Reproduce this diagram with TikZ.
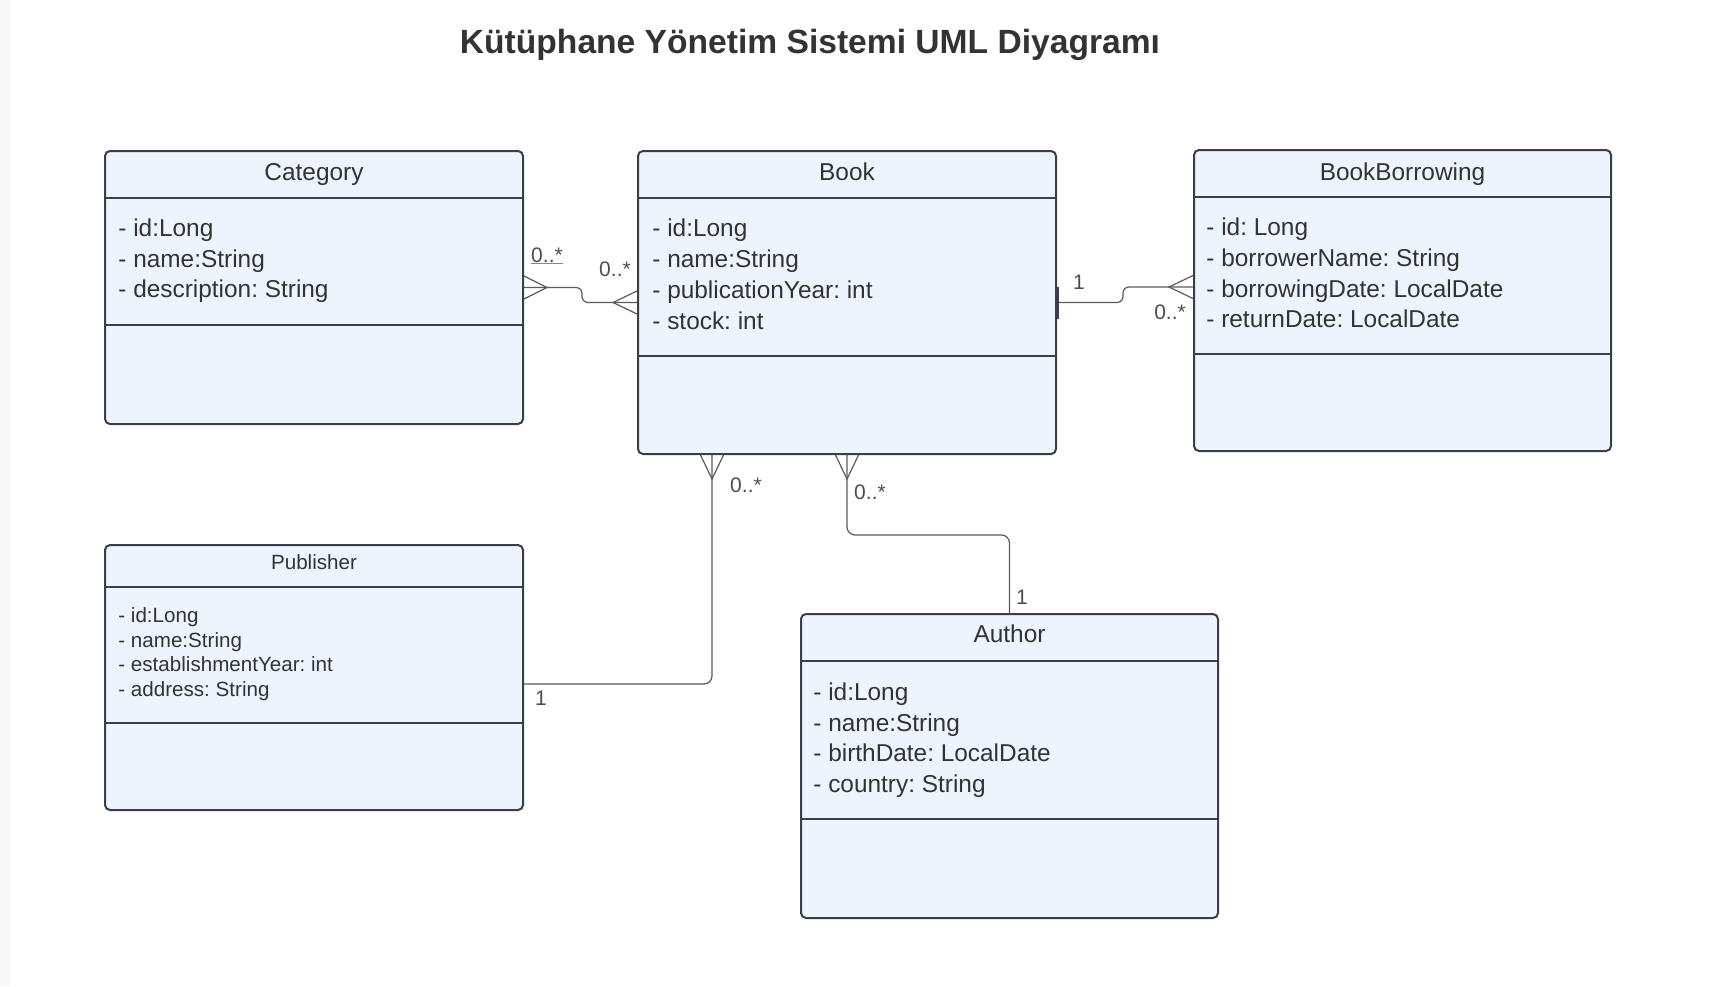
\documentclass[tikz,border=0pt]{standalone}
\usepackage{fontspec}
\setmainfont{Liberation Sans}
\usetikzlibrary{calc}
\frenchspacing

\definecolor{boxfill}{HTML}{EDF4FE}
\definecolor{boxline}{HTML}{3A3F47}
\definecolor{txt}{HTML}{333333}
\definecolor{connline}{HTML}{5A5A5A}
\definecolor{multgrey}{HTML}{4D4D4D}
\definecolor{linkblue}{HTML}{7B7BF0}
\definecolor{strip}{HTML}{F6F8FA}

\tikzset{
  classbox/.style={draw=boxline, fill=boxfill, line width=1pt, rounded corners=2.5pt, anchor=north west, inner sep=0pt},
  divider/.style={draw=boxline, line width=1pt},
  conn/.style={draw=connline, line width=0.6pt},
  diagtitle/.style={anchor=base, inner sep=0pt, text=txt, font=\bfseries\fontsize{16.8}{20}\selectfont},
  head/.style={anchor=base, inner sep=0pt, text=txt, font=\fontsize{12.2}{14}\selectfont},
  smallhead/.style={head, font=\fontsize{10.3}{12}\selectfont},
  attr/.style={anchor=base west, inner sep=0pt, text=txt, font=\fontsize{12.2}{14}\selectfont},
  smallattr/.style={attr, font=\fontsize{10.3}{12}\selectfont},
  mult/.style={inner sep=0pt, text=multgrey, font=\fontsize{10.5}{12}\selectfont},
}

\begin{document}
\begin{tikzpicture}[x=0.5pt, y=-0.5pt]
\useasboundingbox (0,0) rectangle (1714,986);
\fill[strip] (0,0) rectangle (10,986);

\node[diagtitle] (title) at (810,53) {Kütüphane Yönetim Sistemi UML Diyagramı};

% classes
\node[classbox, minimum width=209pt, minimum height=136.5pt] (cat) at (104,150) {};
\node[classbox, minimum width=209pt, minimum height=151.5pt] (book) at (637,150) {};
\node[classbox, minimum width=208.5pt, minimum height=150.5pt] (bb) at (1193,149) {};
\node[classbox, minimum width=209pt, minimum height=132.5pt] (pub) at (104,544) {};
\node[classbox, minimum width=208.5pt, minimum height=152pt] (aut) at (800,613) {};

\draw[divider] (cat.north west) ++(0,48) -- ++(418,0);
\draw[divider] (cat.north west) ++(0,175) -- ++(418,0);
\draw[divider] (book.north west) ++(0,48) -- ++(418,0);
\draw[divider] (book.north west) ++(0,205.7) -- ++(418,0);
\draw[divider] (bb.north west) ++(0,48) -- ++(417,0);
\draw[divider] (bb.north west) ++(0,205) -- ++(417,0);
\draw[divider] (pub.north west) ++(0,43) -- ++(418,0);
\draw[divider] (pub.north west) ++(0,179) -- ++(418,0);
\draw[divider] (aut.north west) ++(0,48) -- ++(417,0);
\draw[divider] (aut.north west) ++(0,206) -- ++(417,0);

\node[head] (catname) at ($(cat.north)+(0,30)$) {Category};
\node[head] (bookname) at ($(book.north)+(0,30)$) {Book};
\node[head] (bbname) at ($(bb.north)+(0,31)$) {BookBorrowing};
\node[smallhead] (pubname) at ($(pub.north)+(0,25.5)$) {Publisher};
\node[head] (autname) at ($(aut.north)+(0,29)$) {Author};

\foreach \a [count=\i] in {{- id:Long}, {- name:String}, {- description: String}}
  \node[attr] (catattr\i) at ($(cat.north west)+(14,56+30.5*\i)$) {\a};
\foreach \a [count=\i] in {{- id:Long}, {- name:String}, {- publicationYear: int}, {- stock: int}}
  \node[attr] (bookattr\i) at ($(book.north west)+(15,55.7+31*\i)$) {\a};
\foreach \a [count=\i] in {{- id: Long}, {- borrowerName: String}, {- borrowingDate: LocalDate}, {- returnDate: LocalDate}}
  \node[attr] (bbattr\i) at ($(bb.north west)+(13,56+30.7*\i)$) {\a};
\foreach \a [count=\i] in {{- id:Long}, {- name:String}, {- establishmentYear: int}, {- address: String}}
  \node[smallattr] (pubattr\i) at ($(pub.north west)+(14,53.7+24.7*\i)$) {\a};
\foreach \a [count=\i] in {{- id:Long}, {- name:String}, {- birthDate: LocalDate}, {- country: String}}
  \node[attr] (autattr\i) at ($(aut.north west)+(13,57.2+30.5*\i)$) {\a};

% ports
\coordinate (bbin) at ($(bb.west)+(0,-13.5)$);
\coordinate (pubin) at ($(pub.east)+(0,6.5)$);
\coordinate (pubout) at ($(book.south)+(-135,0)$);

% connectors
\draw[conn, rounded corners=3pt] (cat.east) -- ++(58,0) |- (book.west);
\draw[conn, rounded corners=3pt] (book.east) -- ++(66,0) |- (bbin);
\draw[conn, rounded corners=4pt] (pubout) |- (pubin);
\draw[conn, rounded corners=4pt] (book.south) -- ++(0,80) -| (aut.north);

% crow's feet
\draw[conn] (cat.east) ++(0,-11.5) -- ++(23,11.5) -- ++(-23,11.5);
\draw[conn] (book.west) ++(0,-11.5) -- ++(-24,11.5) -- ++(24,11.5);
\draw[conn] (bbin) ++(0,-11.5) -- ++(-24,11.5) -- ++(24,11.5);
\draw[conn] (pubout) ++(-11.5,0) -- ++(11.5,24) -- ++(11.5,-24);
\draw[conn] (book.south) ++(-11.5,0) -- ++(11.5,24) -- ++(11.5,-24);
\draw[boxline, line width=1.5pt] (book.east) ++(0,-16) -- ++(0,32);

% multiplicities
\node[mult] (mcat) at (547,255) {0..*};
\draw[linkblue, line width=0.6pt] ([yshift=-0.5pt]mcat.south west) -- ([yshift=-0.5pt]mcat.south east);
\node[mult] (mbookl) at (615,269) {0..*};
\node[mult] (mbookr) at (1079,282) {1};
\node[mult] (mbb) at (1170,312) {0..*};
\node[mult] (mpubbook) at (746,485) {0..*};
\node[mult] (mpub) at (541,698) {1};
\node[mult] (mautbook) at (870,492) {0..*};
\node[mult] (maut) at (1022,597) {1};
\end{tikzpicture}
\end{document}
